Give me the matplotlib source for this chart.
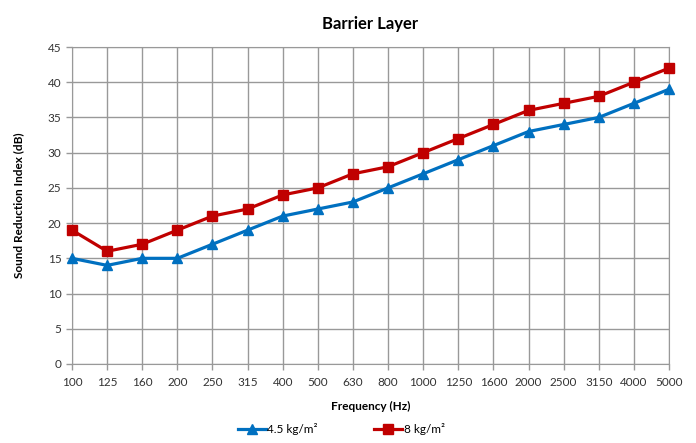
import matplotlib.pyplot as plt

freqs = ['100', '125', '160', '200', '250', '315', '400', '500', '630', '800',
         '1000', '1250', '1600', '2000', '2500', '3150', '4000', '5000']
light = [15, 14, 15, 15, 17, 19, 21, 22, 23, 25, 27, 29, 31, 33, 34, 35, 37, 39]
heavy = [19, 16, 17, 19, 21, 22, 24, 25, 27, 28, 30, 32, 34, 36, 37, 38, 40, 42]

plt.rcParams['font.family'] = ['Lato', 'DejaVu Sans']

fig = plt.figure(figsize=(6.96, 4.43), dpi=100)
ax = fig.add_axes([72 / 696, 1 - 364 / 443, (669 - 72) / 696, (364 - 47) / 443])

x = list(range(len(freqs)))
ax.plot(x, light, color='#0070C0', lw=2.3, marker='^', ms=7.5, label='4.5 kg/m²', clip_on=False, zorder=3)
ax.plot(x, heavy, color='#C00000', lw=2.3, marker='s', ms=7, label='8 kg/m²', clip_on=False, zorder=3)

ax.set_xlim(0, len(freqs) - 1)
ax.set_ylim(0, 45)
ax.set_xticks(x)
ax.set_xticklabels(freqs)
ax.set_yticks(range(0, 46, 5))
ax.grid(True, color='#999999', lw=1)
ax.set_axisbelow(True)
for s in ax.spines.values():
    s.set_color('#999999')
ax.tick_params(colors='#999999', labelcolor='#333333', labelsize=8.5, length=4, width=1)
ax.tick_params(axis='x', pad=5)

ax.set_title('Barrier Layer', fontsize=12, fontweight='bold', pad=13)
ax.set_xlabel('Frequency (Hz)', fontsize=8.5, fontweight='bold', labelpad=10)
ax.set_ylabel('Sound Reduction Index (dB)', fontsize=8.5, fontweight='bold', labelpad=17)

fig.legend(loc='center', bbox_to_anchor=(0.49, 1 - 429 / 443), ncol=2, frameon=False,
           fontsize=8.5, handlelength=2.4, handletextpad=0.1, columnspacing=4.8)

plt.savefig('out.png', dpi=100)
